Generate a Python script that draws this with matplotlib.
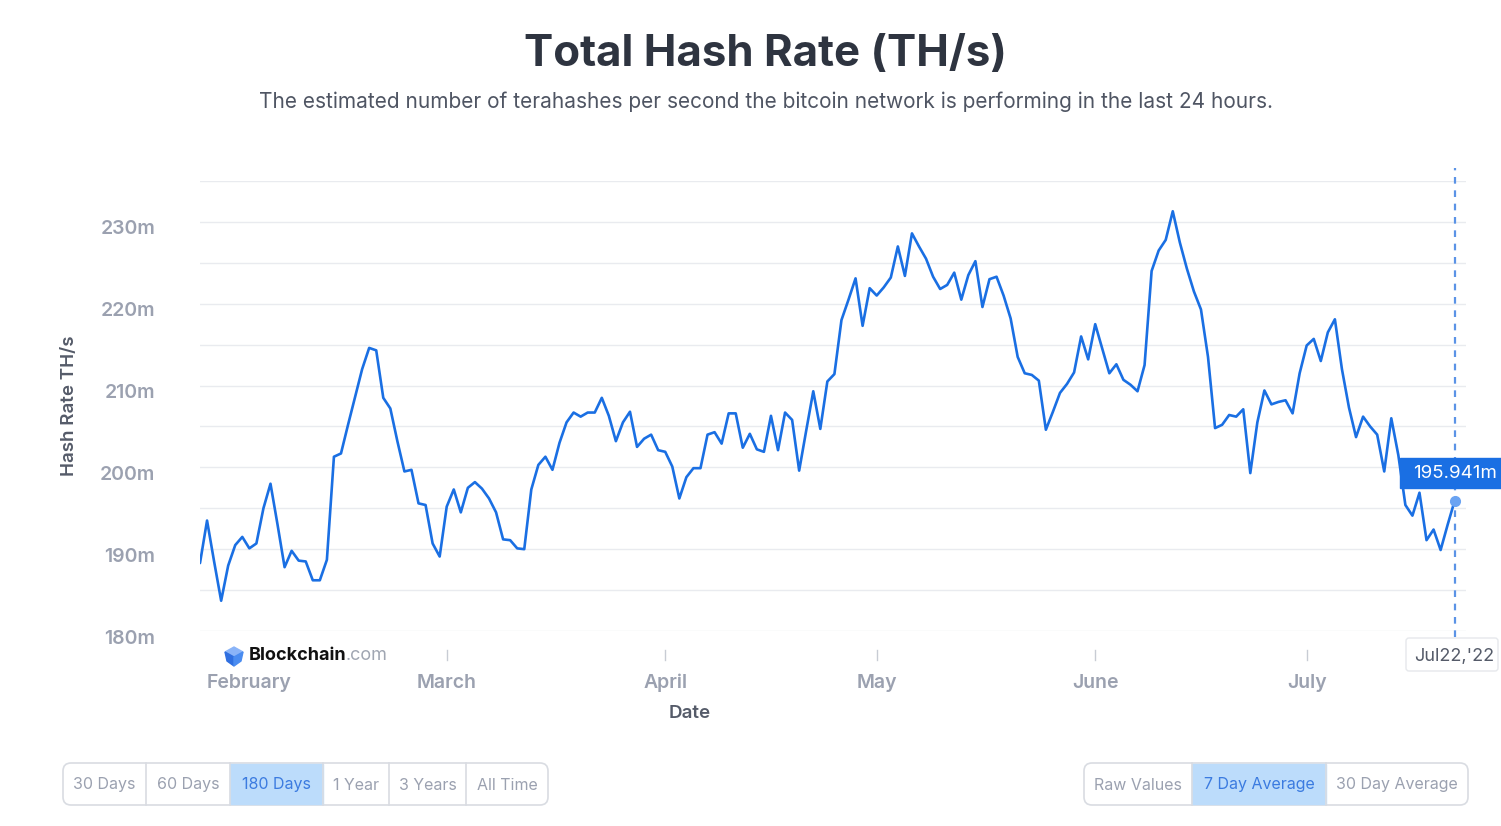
import numpy as np
import pandas as pd
import matplotlib
matplotlib.use("Agg")
import matplotlib.pyplot as plt
import matplotlib.dates as mdates
from matplotlib.patches import FancyBboxPatch, Rectangle, Polygon
from matplotlib.transforms import ScaledTranslation, blended_transform_factory

plt.rcParams['font.family'] = ['Inter', 'DejaVu Sans']

# 7 day average hash rate, millions of TH/s, one value per day
start_date = "2022-01-25"
hash_rate = [
    188.3, 193.5, 188.5, 183.7, 188.0, 190.5, 191.5, 190.1, 190.7, 195.0,
    198.0, 193.0, 187.8, 189.8, 188.6, 188.5, 186.2, 186.2, 188.7, 201.3,
    201.7, 205.2, 208.6, 212.0, 214.6, 214.3, 208.5, 207.2, 203.2, 199.5,
    199.7, 195.6, 195.4, 190.7, 189.1, 195.2, 197.3, 194.5, 197.5, 198.2,
    197.4, 196.2, 194.5, 191.2, 191.1, 190.1, 190.0, 197.3, 200.3, 201.3,
    199.7, 203.0, 205.5, 206.7, 206.2, 206.7, 206.7, 208.5, 206.3, 203.2,
    205.5, 206.8, 202.5, 203.5, 204.0, 202.1, 201.9, 200.1, 196.2, 198.8,
    199.9, 199.9, 204.0, 204.3, 202.9, 206.6, 206.6, 202.4, 204.1, 202.2,
    201.9, 206.3, 202.1, 206.7, 205.8, 199.6, 204.5, 209.3, 204.7, 210.5,
    211.4, 218.0, 220.5, 223.1, 217.3, 221.9, 221.0, 222.0, 223.2, 227.0,
    223.4, 228.6, 227.0, 225.5, 223.3, 221.8, 222.3, 223.8, 220.5, 223.5,
    225.2, 219.6, 223.0, 223.3, 221.0, 218.2, 213.5, 211.5, 211.3, 210.6,
    204.6, 206.8, 209.1, 210.2, 211.6, 216.0, 213.2, 217.5, 214.5, 211.5,
    212.6, 210.7, 210.1, 209.3, 212.5, 224.0, 226.5, 227.8, 231.3, 227.5,
    224.3, 221.5, 219.3, 213.5, 204.8, 205.2, 206.4, 206.2, 207.1, 199.3,
    205.5, 209.4, 207.7, 208.0, 208.2, 206.6, 211.5, 214.9, 215.7, 213.0,
    216.5, 218.1, 212.0, 207.3, 203.7, 206.2, 205.0, 204.0, 199.5, 206.0,
    201.5, 195.4, 194.1, 196.9, 191.1, 192.4, 189.9, 193.0, 195.941,
]
dates = pd.date_range(start_date, periods=len(hash_rate), freq="D")

y_ticks = [180, 190, 200, 210, 220, 230]
range_buttons = ["30 Days", "60 Days", "180 Days", "1 Year", "3 Years", "All Time"]
avg_buttons = ["Raw Values", "7 Day Average", "30 Day Average"]

W, H = 1501, 826
fig = plt.figure(figsize=(W / 100, H / 100), dpi=100)
fig.patch.set_facecolor("white")

line_col = "#1a6fe3"
tick_col = "#9ba1b0"

ax = fig.add_axes([200 / W, 1 - 631 / H, 1266 / W, 450 / H])
ax.plot(dates, hash_rate, color=line_col, lw=1.9, solid_joinstyle="round",
        solid_capstyle="round", zorder=3)
ax.set_ylim(180, 235)
ax.set_xlim(dates[0], dates[0] + pd.Timedelta(days=179.6))
for v in np.arange(180, 236, 5):
    ax.axhline(v, color="#e9ebef", lw=1, zorder=1)
for s in ax.spines.values():
    s.set_visible(False)

ax.set_yticks(y_ticks)
ax.set_yticklabels([f"{v}m" for v in y_ticks])
ax.tick_params(axis="y", length=0, pad=32, labelsize=14, labelcolor=tick_col)
for lab in ax.get_yticklabels():
    lab.set_fontweight("semibold")
    lab.set_transform(lab.get_transform() + ScaledTranslation(0, -4 / 72, fig.dpi_scale_trans))

# month labels and small tick marks below the plot
ax.set_xticks([])
month_locs = mdates.MonthLocator().tick_values(dates[0], dates[-1])
bt = blended_transform_factory(ax.transData, ax.transAxes)
for m in month_locs:
    d = mdates.num2date(m)
    ax.text(m, (631 - 683) / 450, d.strftime("%B"), transform=bt, ha="center", va="center",
            fontsize=14, fontweight="semibold", color=tick_col)
    if d.month > 2:
        ax.plot([m, m], [-0.042, -0.064], transform=bt, color="#c8ccd4", lw=1, clip_on=False)

ax.set_ylabel("Hash Rate TH/s", fontsize=13.5, color="#555b69", fontweight="semibold")
ax.yaxis.set_label_coords(-0.0964, 0.5)
ax.text(0.387, (631 - 714) / 450, "Date", transform=ax.transAxes, ha="center", va="center",
        fontsize=13.5, color="#555b69", fontweight="semibold")

# hover marker on last day
last = dates[-1]
ax.plot([last, last], [-0.013, 1.03], transform=bt, color="#5b93e6", lw=1.6,
        ls=(0, (3, 3)), clip_on=False, zorder=2)
ax.plot(last, hash_rate[-1], "o", color="#6aa3f2", ms=7, zorder=4)

# overlay in pixel coordinates for decorations
ov = fig.add_axes([0, 0, 1, 1], zorder=5)
ov.set_xlim(0, W)
ov.set_ylim(H, 0)
ov.axis("off")
ov.patch.set_alpha(0)

fig.text(765 / W, 1 - 54 / H, "Total Hash Rate (TH/s)", ha="center", va="center",
         fontsize=31.5, fontweight="bold", color="#2e3440")
fig.text(766 / W, 1 - 102 / H,
         "The estimated number of terahashes per second the bitcoin network is performing in the last 24 hours.",
         ha="center", va="center", fontsize=15, color="#4f5563")

# value tooltip
ov.add_patch(Rectangle((1400, 458), 110, 30, color="#1a6fe3", zorder=6))
ov.text(1455, 473, f"{hash_rate[-1]:.3f}m", ha="center", va="center", color="white", fontsize=13.5, zorder=7)

# date tag
ov.add_patch(FancyBboxPatch((1406, 638), 92, 33, boxstyle="round,pad=0,rounding_size=3",
                            fc="white", ec="#e6e8ec", lw=1, zorder=6))
ov.text(1454, 656, "Jul22,'22", ha="center", va="center", color="#555b69", fontsize=13, zorder=7)

# Blockchain.com logo
ov.add_patch(Polygon([[234, 647], [243, 652], [234, 657], [225, 652]], color="#8ab4f8", zorder=6))
ov.add_patch(Polygon([[225, 652], [234, 657], [234, 666], [227, 661]], color="#2f6fe0", zorder=6))
ov.add_patch(Polygon([[243, 652], [234, 657], [234, 666], [241, 661]], color="#4a8cf0", zorder=6))
ov.text(249, 656, "Blockchain", ha="left", va="center", fontsize=13, fontweight="bold", color="#111111", zorder=7)
ov.text(346, 656, ".com", ha="left", va="center", fontsize=13, color="#a0a6b2", zorder=7)


def button_group(x0, widths, labels, active, y0=763, h=42):
    total = sum(widths)
    ov.add_patch(FancyBboxPatch((x0, y0), total, h, boxstyle="round,pad=0,rounding_size=8",
                                fc="white", ec="#d9dce2", lw=1.2, zorder=6))
    x = x0
    for i, (w, lab) in enumerate(zip(widths, labels)):
        if i == active:
            ov.add_patch(Rectangle((x, y0 + 0.6), w, h - 1.2, color="#bcdcfb", zorder=6.5))
        if i > 0:
            ov.plot([x, x], [y0, y0 + h], color="#d9dce2", lw=1.2, zorder=6.6)
        ov.text(x + w / 2, y0 + h / 2 + 1, lab, ha="center", va="center", fontsize=11.5,
                color="#3b7be0" if i == active else "#9ba1b0", zorder=7)
        x += w


button_group(63, [83, 84, 93, 66, 77, 82], range_buttons, 2)
button_group(1084, [108, 134, 142], avg_buttons, 1)

fig.savefig("out.png", dpi=100)
